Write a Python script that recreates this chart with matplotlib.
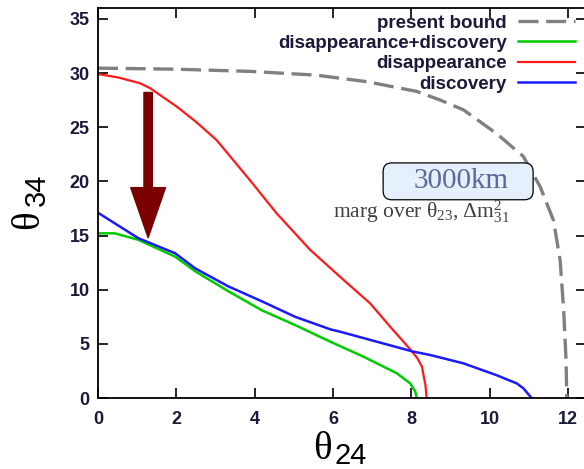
import matplotlib
matplotlib.use("Agg")
import matplotlib.pyplot as plt
from matplotlib.patches import FancyBboxPatch

plt.rcParams["mathtext.fontset"] = "custom"
plt.rcParams["mathtext.rm"] = "Liberation Serif"
plt.rcParams["mathtext.it"] = "Liberation Serif:italic"
plt.rcParams["mathtext.bf"] = "Liberation Serif:bold"

# ---- data ----
bound_x = [0, 2, 3.88, 5.58, 6.86, 8.14, 8.74, 9.33, 10.18, 10.86, 11.29, 11.63, 11.8, 11.89, 11.95, 11.97]
bound_y = [30.45, 30.35, 30.15, 29.8, 29.2, 28.3, 27.5, 26.6, 24.4, 22.3, 19.5, 16.4, 12.7, 8.1, 3.5, 0.0]

red_x = [0, 0.5, 1.07, 1.33, 2.01, 2.5, 3.03, 3.88, 4.56, 5.41, 6.27, 6.95, 7.46, 7.97, 8.15, 8.27, 8.36, 8.39]
red_y = [29.9, 29.6, 29.06, 28.6, 26.9, 25.5, 23.8, 20.1, 17.05, 13.7, 10.9, 8.73, 6.58, 4.5, 3.7, 2.9, 1.2, 0.0]

green_x = [0, 0.43, 1.03, 1.97, 2.48, 3.33, 4.18, 5.03, 5.93, 6.78, 7.63, 7.97, 8.1, 8.14]
green_y = [15.2, 15.2, 14.6, 13.05, 11.7, 9.85, 8.1, 6.74, 5.2, 3.81, 2.28, 1.35, 0.6, 0.0]

blue_x = [0, 1.03, 1.97, 2.48, 3.33, 4.18, 5.03, 5.93, 6.18, 8.05, 8.48, 9.33, 10.18, 10.69, 10.86, 11.07]
blue_y = [17.1, 14.75, 13.36, 11.97, 10.3, 8.93, 7.5, 6.34, 6.12, 4.28, 3.97, 3.2, 2.1, 1.35, 0.9, 0.0]

labels = ["present bound", "disappearance+discovery", "disappearance", "discovery"]
xticks = [0, 2, 4, 6, 8, 10, 12]
yticks = [0, 5, 10, 15, 20, 25, 30, 35]

arrow_x = 1.28
arrow_y0, arrow_y1 = 28.2, 14.8

W, H = 584, 469
fig = plt.figure(figsize=(W / 100, H / 100), dpi=100)
ax = fig.add_axes([98 / W, (H - 398) / H, (586 - 98) / W, (398 - 8) / H])


def fp(x, y):
    return (x / W, 1 - y / H)


txtc = "#1a1a3a"
l1, = ax.plot(bound_x, bound_y, color="#808080", lw=2.4, dashes=(6, 2.3))
l2, = ax.plot(green_x, green_y, color="#00cc00", lw=1.8)
l3, = ax.plot(red_x, red_y, color="#ff1a1a", lw=1.6)
l4, = ax.plot(blue_x, blue_y, color="#1a1aff", lw=1.8)

ax.set_xlim(0, 12.46)
ax.set_ylim(0, 36)
ax.set_xticks(xticks)
ax.set_yticks(yticks)
ax.tick_params(direction="in", length=7, width=1.2, top=True, right=True,
               labelsize=13, colors="black", labelcolor=txtc)
ax.tick_params(axis="x", pad=9)
ax.tick_params(axis="y", pad=6)
for lab in ax.get_xticklabels() + ax.get_yticklabels():
    lab.set_fontweight("bold")
    lab.set_family("Liberation Sans")
for s in ax.spines.values():
    s.set_linewidth(1.3)

# axis labels: serif theta with large sans subscript
fig.text(*fp(313, 459), "θ", family="Liberation Serif", fontsize=28,
         ha="left", va="baseline")
fig.text(*fp(334, 463.5), "24", family="Liberation Sans", fontsize=21,
         ha="left", va="baseline")
fig.text(*fp(38, 229), "θ", family="Liberation Serif", fontsize=28,
         ha="left", va="baseline", rotation=90, rotation_mode="anchor")
fig.text(*fp(45, 206), "34", family="Liberation Sans", fontsize=21,
         ha="left", va="baseline", rotation=90, rotation_mode="anchor")

leg = ax.legend([l1, l2, l3, l4], labels, loc="upper right", frameon=False,
                markerfirst=False, handlelength=3.0, handletextpad=0.6,
                labelspacing=0.17, borderaxespad=0.0, borderpad=0.4,
                bbox_to_anchor=fp(582, 7), bbox_transform=fig.transFigure,
                prop={"family": "Liberation Sans", "weight": "bold", "size": 13.5})
for t in leg.get_texts():
    t.set_color(txtc)
leg._legend_box.align = "right"

ax.annotate("", xy=(arrow_x, arrow_y1), xytext=(arrow_x, arrow_y0),
            arrowprops=dict(arrowstyle="simple,head_width=25,head_length=36,tail_width=6",
                            mutation_scale=1, color="#7a0000", shrinkA=0, shrinkB=0))

box = FancyBboxPatch((7.28, 18.3), 3.83, 3.4, boxstyle="round,pad=0,rounding_size=0.22",
                     mutation_aspect=3.6,
                     facecolor="#e6effc", edgecolor="black", lw=0.9, zorder=5)
ax.add_patch(box)
fig.text(*fp(461.5, 181), "3000km", ha="center", va="center", fontsize=21,
         color="#5a6a9a", family="Liberation Serif", zorder=6)
fig.text(*fp(333, 218), r"marg over $\mathrm{θ_{23}}$, $\mathrm{Δm^2_{31}}$",
         ha="left", va="baseline", fontsize=15.5, color="#404040",
         family="Liberation Serif", zorder=6)

fig.savefig("out.png", dpi=100)
